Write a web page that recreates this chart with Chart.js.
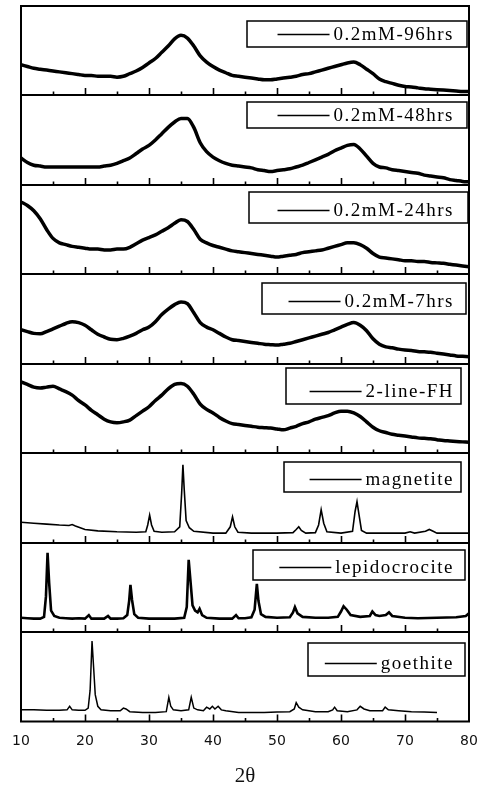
<!DOCTYPE html>
<html lang="en">
<head>
    <meta charset="UTF-8">
    <title>XRD patterns</title>
    <script src="https://cdn.jsdelivr.net/npm/chart.js"></script>
    <style>
        html, body {
            margin: 0;
            padding: 0;
            background: #fff;
        }
        #wrap {
            position: relative;
            width: 478px;
            height: 789px;
            overflow: hidden;
        }
        .panel {
            position: absolute;
            left: 0;
            width: 478px;
        }
    </style>
</head>
<body>
<div id="wrap"></div>

<script>
// 2θ grid (1° step) for the broad patterns
const thetaBroad = [10,11,12,13,14,15,16,17,18,19,20,21,22,23,24,25,26,27,28,29,30,31,32,33,34,35,36,37,38,39,
    40,41,42,43,44,45,46,47,48,49,50,51,52,53,54,55,56,57,58,59,60,61,62,63,64,65,66,67,68,69,70,71,72,73,74,75,76,77,78,79,80];

// relative intensity (0 = bottom of panel, 100 = top)
const hrs96 = [34,32,30,29,28,27,26,25,24,23, 22,22,21,21,21,20,21,24,27,31, 36,41,48,55,63,67,64,55,44,37,
    32,28,25,22,21,20,19,18,17,17, 18,19,20,21,23,24,26,28,30,32, 34,36,37,34,29,24,18,15,13,11,
    9.5,9,8,7,6.5,6,5.5,5,4.5,4, 4];
const hrs48 = [30,25,22,21,20,20,20,20,20,20, 20,20,20,21,22,24,27,30,35,40, 44,50,57,64,70,74,74,64,47,37,
    31,27,24,22,21,20,19,17,16,15, 16,17,18,20,22,25,28,31,34,38, 41,44,45,40,32,24,20,19,17,16,
    15,14,13,11,10,9,8,6,5,4, 3.5];
const hrs24 = [81,77,71,62,50,40,35,33,31,30, 29,28,28,27,27,28,28,30,34,38, 41,44,48,52,57,61,59,50,39,35,
    32,30,28,26,25,24,23,22,21,20, 19,20,21,22,24,25,26,27,29,31, 33,35,35,33,29,23,19,18,17,16,
    15,15,14,14,13,12.5,12,11,10,9, 8];
const hrs7 = [38,36,34,33.5,36,39,42,45,47,46, 43,38,33,30,27.5,27,28.5,31,34,38, 41,47,55,61,66,69,67,57,46,41,
    38,34,30,27,26,25,24,23,22,21.5, 21,22,23,25,27,29,31,33,35,38, 41,44,46,43,37,28,22,19,18,16.5,
    15.5,15,14,13.5,13,12,11,10,9,8.5, 8];
const fh2line = [80,77,74,73,74,75,72,69,65,59, 54,48,43,38,35,34,35,37,42,47, 52,59,65,72,77,78,75,66,55,49,
    45,40,36,33,32,31,30,29,28.5,28, 27,26,28,30,33,35,38,40,42,45, 47,47,45,41,35,29,25,23,21,20,
    19,18,17,16.5,16,15,14,13.5,13,12.5, 12];

const magnetiteTheta = [10,12,14,16,17.5,18,18.5,20,22,25,28,29.5,29.8,30.1,30.4,30.8,32,34,34.8,35.1,35.3,35.5,35.8,36.3,37,40,
    42,42.7,43.05,43.4,43.9,46,50,52.5,53,53.4,53.8,54.5,56,56.5,56.9,57.3,57.8,60,61.8,62.2,62.5,62.8,63.2,64,67,70,70.8,71.5,73.2,73.8,74.4,75,80];
const magnetiteI = [23,22,21,20,19.5,20.5,19,15,13.5,12.5,12,12.5,20,31,20,13,12,12.5,18,55,87,60,25,17,13,11,
    11,18,29,18,12,11,11,11.5,15,18,14,11,11.5,20,37,22,12.5,11,13,35,46,32,14,11,11,11,12.5,11,13,15,13,11,11];

const lepidoTheta = [10,11,12,13,13.6,13.9,14.15,14.4,14.7,15.2,16,17,18,19,20,20.6,21,22,23,23.6,24,25,26,26.6,26.9,27.1,27.35,27.7,28.3,
    30,32,34,35.5,35.9,36.2,36.45,36.8,37.2,37.6,37.9,38.3,39,41,43,43.6,44,45,46,46.5,46.85,47.1,47.5,48.2,50,52,52.5,52.8,53.2,54,
    56,58,59.5,60,60.4,60.9,61.5,63,64.5,64.9,65.4,66,67,67.5,68,70,72,75,78,79.5,80];
const lepidoI = [16,15.5,15,15,17,40,89,55,24,18,16,15.5,15,15.5,15,19,15,15,15,18,15,15,15.5,19,35,53,36,20,16,
    15,15,15,16,28,81,60,30,24,22,26,19,16,15,15,19,15.5,15.5,16.5,25,54,35,20,17,16,16.5,22,28,21,17,
    16,16,17,23,29,25,19,17,18,23,19,18,19,22,18,16,15.5,16,16.5,18,21];

const goethiteTheta = [10,12,14,16,17.2,17.6,18,19,20,20.5,20.8,21.1,21.35,21.6,22,22.5,24,25.5,26,26.4,27,29,31,32.7,33.1,33.4,33.8,35,
    36.2,36.6,37,37.6,38.5,39,39.5,39.9,40.3,40.8,41.3,42,44,46,48,50,52,52.7,53,53.4,54,55,56,58,58.7,59,59.4,61,62.5,63,63.6,64.5,
    66.5,66.9,67.4,69,71,73,75];
const goethiteI = [13,13,12.5,12.5,13,17,13,12.5,12.5,15,35,90,60,30,17,13,12,12,15,14,11,10,10,11,27,17,13,12,
    13,27,15,13,12,16,14,17,14,17,13,12,10,10,10,10.5,11,14,21,16,13,12,11,11,13,16,12,11,13,17,14,12,
    12,16,13,12,11,10.5,10];

const labels = ['0.2mM-96hrs', '0.2mM-48hrs', '0.2mM-24hrs', '0.2mM-7hrs', '2-line-FH', 'magnetite', 'lepidocrocite', 'goethite'];
const xTickStep = 10;

// layout only: panel edges (px) and legend boxes [left, top offset, right, bottom offset]
const edges = [6, 95, 185, 274, 364, 453, 543, 632, 722];
const boxes = [
    [247, 15, 467, 41], [247, 7, 467, 33], [249, 7, 468, 38], [262, 9, 466, 40],
    [286, 4, 461, 40], [284, 9, 461, 39], [253, 7, 465, 37], [308, 11, 465, 44]
];

const panels = [
    {x: thetaBroad, y: hrs96, w: 3.5, smooth: true},
    {x: thetaBroad, y: hrs48, w: 3.5, smooth: true},
    {x: thetaBroad, y: hrs24, w: 3.5, smooth: true},
    {x: thetaBroad, y: hrs7, w: 3.5, smooth: true},
    {x: thetaBroad, y: fh2line, w: 3.5, smooth: true},
    {x: magnetiteTheta, y: magnetiteI, w: 1.6, smooth: false},
    {x: lepidoTheta, y: lepidoI, w: 2.6, smooth: false},
    {x: goethiteTheta, y: goethiteI, w: 1.5, smooth: false}
];

// frame, inward ticks and boxed legend
const framePlugin = {
    id: 'frame',
    afterDatasetsDraw(chart, args, opts) {
        const ctx = chart.ctx;
        const a = chart.chartArea;
        const xs = chart.scales.x;
        ctx.save();
        ctx.strokeStyle = '#000';
        ctx.lineWidth = 2;
        ctx.strokeRect(a.left, a.top, a.right - a.left, a.bottom - a.top);

        ctx.lineWidth = 1.6;
        for (let v = 15; v < 80; v += 5) {
            const px = Math.round(xs.getPixelForValue(v)) + 0.5;
            const len = v % 10 === 0 ? 7 : 3.5;
            ctx.beginPath();
            ctx.moveTo(px, a.bottom);
            ctx.lineTo(px, a.bottom - len);
            ctx.stroke();
        }

        const b = opts.box;
        const top = a.top + b[1], bottom = a.top + b[3];
        ctx.fillStyle = '#fff';
        ctx.fillRect(b[0], top, b[2] - b[0], bottom - top);
        ctx.lineWidth = 1.5;
        ctx.strokeRect(b[0], top, b[2] - b[0], bottom - top);

        const label = chart.data.datasets[0].label;
        ctx.font = '19px "Liberation Serif"';
        ctx.letterSpacing = '1.5px';
        ctx.fillStyle = '#000';
        ctx.textAlign = 'right';
        ctx.textBaseline = 'alphabetic';
        const tx = 454;
        ctx.fillText(label, tx, bottom - 7.5);
        const tw = ctx.measureText(label).width;
        const ly = Math.round(bottom - 13) + 0.5;
        ctx.lineWidth = 1.5;
        ctx.beginPath();
        ctx.moveTo(tx - tw - 56, ly);
        ctx.lineTo(tx - tw - 4, ly);
        ctx.stroke();
        ctx.restore();
    }
};

const wrap = document.getElementById('wrap');

panels.forEach(function(p, i) {
    const isLast = i === panels.length - 1;
    const canvasTop = edges[i] - 4;
    const canvasBottom = isLast ? 789 : edges[i + 1] + 4;

    const div = document.createElement('div');
    div.className = 'panel';
    div.style.top = canvasTop + 'px';
    div.style.height = (canvasBottom - canvasTop) + 'px';
    const canvas = document.createElement('canvas');
    div.appendChild(canvas);
    wrap.appendChild(div);

    const points = p.x.map((t, k) => ({x: t, y: p.y[k]}));

    new Chart(canvas, {
        type: 'line',
        data: {
            datasets: [{
                label: labels[i],
                data: points,
                borderColor: '#000',
                borderWidth: p.w,
                pointRadius: 0,
                fill: false,
                tension: p.smooth ? 0.4 : 0,
                cubicInterpolationMode: p.smooth ? 'monotone' : 'default'
            }]
        },
        options: {
            responsive: true,
            maintainAspectRatio: false,
            animation: false,
            events: [],
            layout: {
                padding: {left: 21, right: 9, top: 4, bottom: isLast ? 0 : 4}
            },
            plugins: {
                legend: {display: false},
                tooltip: {enabled: false},
                frame: {box: boxes[i]}
            },
            scales: {
                x: {
                    type: 'linear',
                    min: 10,
                    max: 80,
                    display: isLast,
                    grid: {display: false, drawTicks: false},
                    border: {display: false},
                    afterFit: function(scale) {
                        // keep the plot width equal to the panels above
                        scale.paddingLeft = 0;
                        scale.paddingRight = 0;
                    },
                    ticks: {
                        stepSize: xTickStep,
                        padding: 11.5,
                        color: '#111',
                        font: {family: 'DejaVu Sans', size: 14}
                    },
                    title: {
                        display: true,
                        text: '2θ',
                        color: '#111',
                        font: {family: 'Liberation Serif', size: 21},
                        padding: {top: 2.5, bottom: 0}
                    }
                },
                y: {
                    display: false,
                    min: 0,
                    max: 100
                }
            }
        },
        plugins: [framePlugin]
    });
});
</script>
</body>
</html>
